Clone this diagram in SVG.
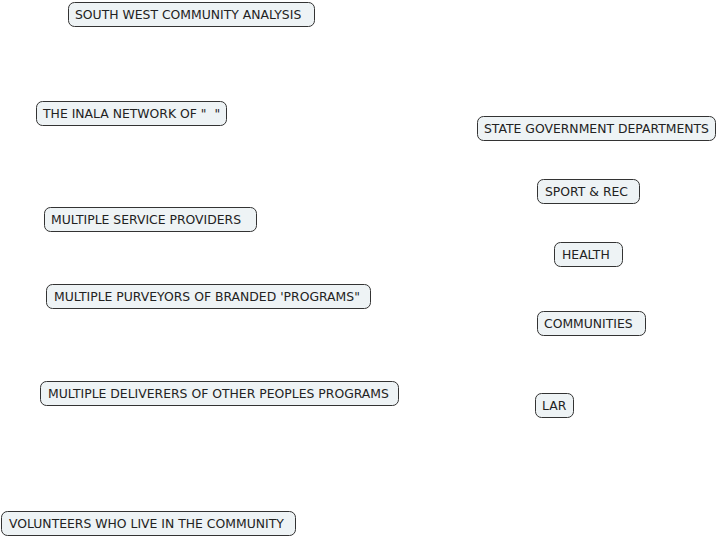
<svg xmlns="http://www.w3.org/2000/svg" width="718" height="538" viewBox="0 0 718 538">
<style>
.n rect{fill:#eef3f5;stroke:#333;stroke-width:1}
.n text{font-family:"DejaVu Sans",Verdana,sans-serif;font-size:12.4px;fill:#222;white-space:pre}
</style>
<rect width="718" height="538" fill="#fff"/>
<g id="connectors"></g>
<g id="n1" class="n"><rect x="68.5" y="2.5" width="246" height="24" rx="6"/><text x="75" y="18.5">SOUTH WEST COMMUNITY ANALYSIS</text></g>
<g id="n2" class="n"><rect x="36.5" y="101.5" width="190" height="24" rx="6"/><text x="43" y="117.5" xml:space="preserve">THE INALA NETWORK OF "  "</text></g>
<g id="n3" class="n"><rect x="477.5" y="116.5" width="238" height="24" rx="6"/><text x="484" y="132.5">STATE GOVERNMENT DEPARTMENTS</text></g>
<g id="n4" class="n"><rect x="537.5" y="179.5" width="102" height="24" rx="6"/><text x="545" y="195.5">SPORT &amp; REC</text></g>
<g id="n5" class="n"><rect x="554.5" y="242.5" width="68" height="24" rx="6"/><text x="562" y="258.5">HEALTH</text></g>
<g id="n6" class="n"><rect x="44.5" y="207.5" width="212" height="24" rx="6"/><text x="51" y="223.5">MULTIPLE SERVICE PROVIDERS</text></g>
<g id="n7" class="n"><rect x="46.5" y="284.5" width="324" height="24" rx="6"/><text x="54" y="300.5">MULTIPLE PURVEYORS OF BRANDED 'PROGRAMS"</text></g>
<g id="n8" class="n"><rect x="537.5" y="311.5" width="108" height="24" rx="6"/><text x="544" y="327.5">COMMUNITIES</text></g>
<g id="n9" class="n"><rect x="40.5" y="381.5" width="358" height="24" rx="6"/><text x="48" y="397.5">MULTIPLE DELIVERERS OF OTHER PEOPLES PROGRAMS</text></g>
<g id="n10" class="n"><rect x="535.5" y="393.5" width="38" height="24" rx="6"/><text x="542" y="409.5">LAR</text></g>
<g id="n11" class="n"><rect x="1.5" y="511.5" width="294" height="24" rx="6"/><text x="9" y="527.5">VOLUNTEERS WHO LIVE IN THE COMMUNITY</text></g>
</svg>
